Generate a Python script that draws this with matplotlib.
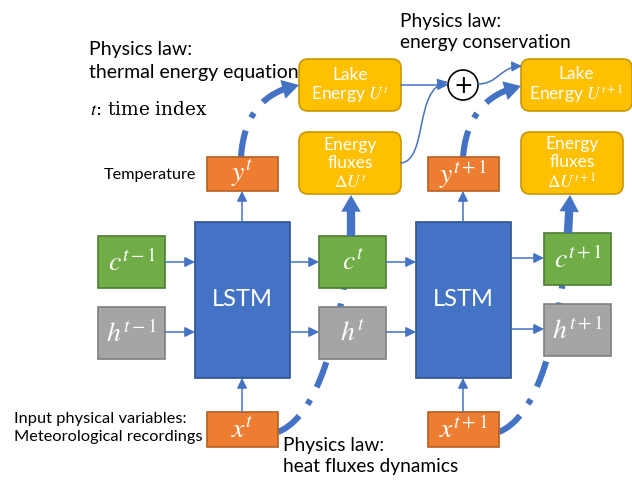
import numpy as np
import matplotlib
matplotlib.use("Agg")
import matplotlib.pyplot as plt
from matplotlib.patches import Rectangle, FancyBboxPatch, Circle, FancyArrowPatch
from matplotlib.path import Path

plt.rcParams['font.family'] = ['Lato', 'DejaVu Sans']
plt.rcParams['mathtext.fontset'] = 'stix'

# diagram content
prev_labels = ["$c^{t-1}$", "$h^{t-1}$"]
cell_labels = ["$c^{t}$", "$c^{t+1}$"]
hidden_labels = ["$h^{t}$", "$h^{t+1}$"]
input_labels = ["$x^{t}$", "$x^{t+1}$"]
output_labels = ["$y^{t}$", "$y^{t+1}$"]
lstm_labels = ["LSTM", "LSTM"]
energy_labels = ["Lake\nEnergy $U^{t}$", "Lake\nEnergy $U^{t+1}$"]
flux_labels = ["Energy\nfluxes\n$\\Delta U^{t}$", "Energy\nfluxes\n$\\Delta U^{t+1}$"]
law_labels = ["Physics law:\nthermal energy equation",
              "Physics law:\nenergy conservation",
              "Physics law:\nheat fluxes dynamics"]
side_labels = ["Temperature", "Input physical variables:\nMeteorological recordings"]
time_label = "$t$: time index"

# colours
ORANGE, ORANGE_E = '#ED7D31', '#B85F22'
BLUE, BLUE_E = '#4472C4', '#2F528F'
GREEN, GREEN_E = '#70AD47', '#507E32'
GRAY, GRAY_E = '#A5A5A5', '#7F7F7F'
YELLOW, YELLOW_E = '#FFC000', '#C99700'

# layout (pixel coords, y down)
col_x = [242, 463]          # centre of LSTM column
state_x = [(319, 386), (544, 611)]
lstm_box = [(195, 222, 95, 156), (416, 222, 95, 156)]
c_y, h_y = (236, 288), (307, 359)
yellow_x = [(299, 401), (521, 632)]
energy_y, flux_y = (59, 111), (132, 194)

fig = plt.figure(figsize=(6.32, 4.8), dpi=100)
ax = fig.add_axes([0, 0, 1, 1])
ax.set_xlim(0, 632)
ax.set_ylim(480, 0)
ax.axis('off')


def box(x0, y0, x1, y1, face, edge, label, size=20):
    ax.add_patch(Rectangle((x0, y0), x1 - x0, y1 - y0, facecolor=face, edgecolor=edge, lw=1.2, zorder=3))
    ax.text((x0 + x1) / 2, (y0 + y1) / 2, label, color='white', fontsize=size,
            ha='center', va='center', zorder=4)


def rbox(x0, y0, x1, y1, label):
    ax.add_patch(FancyBboxPatch((x0, y0), x1 - x0, y1 - y0, boxstyle='round,pad=0,rounding_size=9',
                                facecolor=YELLOW, edgecolor=YELLOW_E, lw=1.2, zorder=3))
    ax.text((x0 + x1) / 2, (y0 + y1) / 2 + 1, label, color='white', fontsize=12.5,
            ha='center', va='center', linespacing=1.15, zorder=4)


def thin(p0, p1, path=None):
    if path is None:
        a = FancyArrowPatch(p0, p1, arrowstyle='-|>,head_length=6,head_width=3', color=BLUE,
                            lw=1.1, shrinkA=0, shrinkB=0, mutation_scale=1, zorder=5)
    else:
        a = FancyArrowPatch(path=Path(path, [Path.MOVETO, Path.CURVE4, Path.CURVE4, Path.CURVE4]),
                            arrowstyle='-|>,head_length=6,head_width=3', color=BLUE,
                            lw=1.1, mutation_scale=1, zorder=5)
    ax.add_patch(a)


def bez(pts, t):
    pts = np.asarray(pts, float)
    n = len(pts) - 1
    t = t[:, None]
    if n == 2:
        return (1 - t) ** 2 * pts[0] + 2 * (1 - t) * t * pts[1] + t ** 2 * pts[2]
    return ((1 - t) ** 3 * pts[0] + 3 * (1 - t) ** 2 * t * pts[1]
            + 3 * (1 - t) * t ** 2 * pts[2] + t ** 3 * pts[3])


def thick_head(p0, p1, z=6):
    ax.add_patch(FancyArrowPatch(p0, p1, arrowstyle='simple,head_length=0.6,head_width=0.7,tail_width=0.3',
                                 mutation_scale=20, color=BLUE, lw=0, shrinkA=0, shrinkB=0, zorder=z))


def dashdot(pts, t_end=1.0, head=False):
    t = np.linspace(0, t_end, 200)
    xy = bez(pts, t)
    ax.plot(xy[:, 0], xy[:, 1], color=BLUE, lw=4.4, dashes=(4.4, 2.3, 0.9, 2.3),
            solid_capstyle='butt', dash_capstyle='butt', zorder=2)
    if head:
        p = bez(pts, np.array([0.86, 1.0]))
        thick_head(tuple(p[0]), tuple(p[1]))


for i in range(2):
    cx = col_x[i]
    # LSTM cell
    x0, y0, w, h = lstm_box[i]
    ax.add_patch(Rectangle((x0, y0), w, h, facecolor=BLUE, edgecolor=BLUE_E, lw=1.2, zorder=3))
    ax.text(x0 + w / 2, y0 + h / 2, lstm_labels[i], color='white', fontsize=17,
            ha='center', va='center', zorder=4)
    box(cx - 35, 412, cx + 36, 447, ORANGE, ORANGE_E, input_labels[i])
    box(cx - 35, 157, cx + 36, 191, ORANGE, ORANGE_E, output_labels[i])
    sx0, sx1 = state_x[i]
    dy = -3 if i == 1 else 0
    box(sx0, c_y[0] + dy, sx1, c_y[1] + dy, GREEN, GREEN_E, cell_labels[i])
    box(sx0, h_y[0] + dy, sx1, h_y[1] + dy, GRAY, GRAY_E, hidden_labels[i])
    # arrows
    thin((cx, 412), (cx, y0 + h))
    thin((cx, y0), (cx, 191))
    thin((x0 + w, 262 + dy - (1 if i else 0)), (sx0, 262 + dy - (1 if i else 0)))
    thin((x0 + w, 332 + dy), (sx0, 332 + dy))
    # yellow boxes
    yx0, yx1 = yellow_x[i]
    rbox(yx0, energy_y[0], yx1, energy_y[1], energy_labels[i])
    rbox(yx0, flux_y[0], yx1 - (9 if i else 0), flux_y[1], flux_labels[i])

# previous states
box(98, 236, 165, 288, GREEN, GREEN_E, prev_labels[0])
box(98, 307, 165, 359, GRAY, GRAY_E, prev_labels[1])
thin((165, 262), (195, 262))
thin((165, 332), (195, 332))
thin((386, 262), (416, 262))
thin((386, 332), (416, 332))

# energy conservation
ax.add_patch(Circle((463, 85), 15, facecolor='white', edgecolor='black', lw=1.2, zorder=5))
ax.text(463, 86, '+', fontsize=17, ha='center', va='center', zorder=6, family='DejaVu Sans')
thin((401, 85), (448, 85))
thin(None, None, [(401, 163), (428, 160), (414, 88), (448, 82)])
thin(None, None, [(478, 84), (498, 84), (500, 67), (522, 66)])

# physics-law curves
dashdot([(241, 157), (245, 95), (299, 85)], 0.9, head=True)
dashdot([(463, 157), (468, 97), (521, 86)], 0.9, head=True)
dashdot([(278, 432), (320, 415), (340, 330), (351, 236)])
dashdot([(499, 432), (540, 415), (560, 330), (568, 233)])
thick_head((351, 236), (351, 195))
thick_head((568, 233), (570, 195))

# text
ax.text(89, 61, law_labels[0], fontsize=14, ha='left', va='center', linespacing=1.4)
ax.text(400, 32, law_labels[1], fontsize=13.8, ha='left', va='center', linespacing=1.35)
ax.text(283, 456, law_labels[2], fontsize=13.8, ha='left', va='center', linespacing=1.35)
ax.text(90, 110, time_label, fontsize=13.3, ha='left', va='center', family='DejaVu Serif')
ax.text(104, 175, side_labels[0], fontsize=11.7, ha='left', va='center')
ax.text(14, 428, side_labels[1], fontsize=11.8, ha='left', va='center', linespacing=1.35)

fig.savefig('out.png', dpi=100)
